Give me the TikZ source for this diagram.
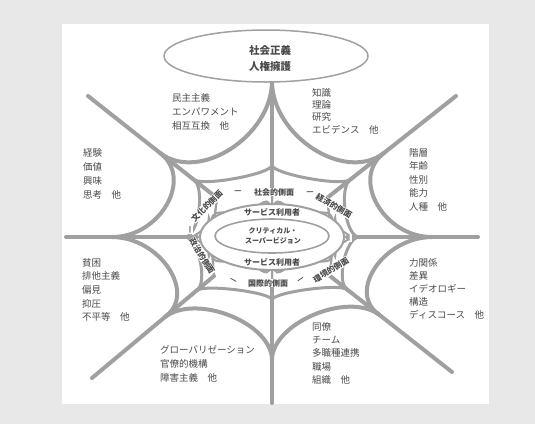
\documentclass[tikz,border=0pt]{standalone}
\usepackage{fontspec}
\setmainfont{Noto Sans CJK JP}
\usetikzlibrary{calc,shapes.geometric}
\definecolor{webgray}{HTML}{A0A0A0}
\definecolor{txtgray}{HTML}{4A4A4A}
\definecolor{bggray}{HTML}{E8E8E8}
\begin{document}
\begin{tikzpicture}[x=1pt,y=-1pt,
  web/.style={draw=webgray, line width=4pt, line cap=round},
  inweb/.style={draw=webgray, line width=3.0pt, line cap=round},
  thinweb/.style={draw=webgray, line width=2.0pt},
  blocktext/.style={anchor=north west, align=left, inner sep=0pt, text=txtgray,
    font=\fontsize{9.5}{14}\selectfont},
  ringlabel/.style={fill=white, inner sep=0.5pt, text=txtgray,
    font=\fontsize{8}{8}\selectfont\bfseries},
  smalltext/.style={inner sep=0pt, text=txtgray, align=center,
    font=\fontsize{7.5}{10}\selectfont\bfseries}]
\useasboundingbox (0,0) rectangle (535,424);
\fill[bggray] (0,0) rectangle (535,424);
\fill[white] (62,24) rectangle (489,404);
\coordinate (c) at (272,238);
% spoke outer ends
\coordinate (oT) at (272,80);
\coordinate (oTR) at (456,96);
\coordinate (oR) at (478,237);
\coordinate (oBR) at (452,372);
\coordinate (oB) at (272,403);
\coordinate (oBL) at (92,378);
\coordinate (oL) at (66,237);
\coordinate (oTL) at (88,96);
% spoke inner ends (label ring)
\coordinate (iT) at (272,190);
\coordinate (iTR) at (327,198);
\coordinate (iR) at (347,237);
\coordinate (iBR) at (330,276);
\coordinate (iB) at (272,280);
\coordinate (iBL) at (214,276);
\coordinate (iL) at (197,237);
\coordinate (iTL) at (217,198);
% outer web cusps
\coordinate (aT) at (272,81);
\coordinate (aTR) at ($(oTR)!0.56!(iTR)$);
\coordinate (aR) at (432,237);
\coordinate (aBR) at ($(oBR)!0.6!(iBR)$);
\coordinate (aB) at (272,360);
\coordinate (aBL) at ($(oBL)!0.6!(iBL)$);
\coordinate (aL) at (112,237);
\coordinate (aTL) at ($(oTL)!0.56!(iTL)$);
% inner web cusps
\coordinate (bT) at (272,165);
\coordinate (bTR) at ($(oTR)!0.82!(iTR)$);
\coordinate (bR) at (359,237);
\coordinate (bBR) at ($(oBR)!0.86!(iBR)$);
\coordinate (bB) at (272,300);
\coordinate (bBL) at ($(oBL)!0.86!(iBL)$);
\coordinate (bL) at (185,237);
\coordinate (bTL) at ($(oTL)!0.82!(iTL)$);
\newcommand\warc[4]{\draw[#4] (#1) .. controls ($(#1)!#3!(c)$) and ($(#2)!#3!(c)$) .. (#2);}
% outer web
\warc{aT}{aTR}{0.35}{web}
\warc{aTR}{aR}{0.3}{web}
\warc{aR}{aBR}{0.3}{web}
\warc{aBR}{aB}{0.3}{web}
\warc{aB}{aBL}{0.3}{web}
\warc{aBL}{aL}{0.3}{web}
\warc{aL}{aTL}{0.3}{web}
\warc{aTL}{aT}{0.35}{web}
% inner web
\warc{bT}{bTR}{0.12}{inweb}
\warc{bTR}{bR}{0.15}{inweb}
\warc{bR}{bBR}{0.15}{inweb}
\warc{bBR}{bB}{0.12}{inweb}
\warc{bB}{bBL}{0.12}{inweb}
\warc{bBL}{bL}{0.15}{inweb}
\warc{bL}{bTL}{0.15}{inweb}
\warc{bTL}{bT}{0.12}{inweb}
% spokes
\foreach \n in {T,TR,R,BR,B,BL,L,TL}{
  \draw[web] (o\n) -- (i\n);
}
\draw[web] (aT) -- (272,72);
% small forks onto the service-user ellipse
\foreach \n/\a in {T/90,TR/38,R/0,BR/-38,B/-90,BL/-142,L/180,TL/142}{
  \draw[thinweb] (i\n) .. controls ($(272,237)+(\a:80 and 40)$) .. ($(272,237)+(\a+10:72 and 33)$);
  \draw[thinweb] (i\n) .. controls ($(272,237)+(\a:80 and 40)$) .. ($(272,237)+(\a-10:72 and 33)$);
}
% service user ellipse and centre
\draw[thinweb, fill=white] (272,237) ellipse [x radius=72, y radius=33];
\draw[thinweb, line width=1.6pt] (272,236) ellipse [x radius=57, y radius=17];
\node[smalltext, font=\fontsize{8}{10}\selectfont\bfseries] (su1) at (272,212) {サービス利用者};
\node[smalltext, font=\fontsize{8}{10}\selectfont\bfseries] (su2) at (272,262) {サービス利用者};
\node[smalltext, font=\fontsize{7}{9.5}\selectfont\bfseries] (cs) at (273,236) {クリティカル・\\スーパービジョン};
% ring labels
\node[ringlabel] (r1) at (274,192) {社会的側面};
\node[ringlabel, rotate=-30] (r2) at (334,206) {経済的側面};
\node[ringlabel, rotate=32] (r3) at (331,270) {環境的側面};
\node[ringlabel] (r4) at (268,283) {国際的側面};
\node[ringlabel, rotate=-58] (r5) at (202,256) {政治的側面};
\node[ringlabel, rotate=45] (r6) at (207,206) {文化的側面};
\node[ringlabel] (d1) at (238,192) {—};
\node[ringlabel] (d2) at (310,193) {—};
\node[ringlabel, rotate=90] (d3) at (350,238) {—};
\node[ringlabel, rotate=35] (d4) at (301,280) {—};
\node[ringlabel, rotate=-30] (d5) at (233,281) {—};
\node[ringlabel, rotate=90] (d6) at (191,230) {—};
% top ellipse
\node[draw=webgray, line width=1.5pt, fill=white, ellipse, minimum width=204pt, minimum height=52pt, inner sep=0pt] (top) at (266,56) {};
\node[smalltext, font=\fontsize{10.5}{16}\selectfont\bfseries] (toptext) at (270,59) {社会正義\\人権擁護};
% text blocks
\node[blocktext] (b1) at (172,93) {民主主義\\エンパワメント\\相互互換　他};
\node[blocktext, font=\fontsize{9.5}{12.4}\selectfont] (b2) at (312,88) {知識\\理論\\研究\\エビデンス　他};
\node[blocktext] (b3) at (83,148) {経験\\価値\\興味\\思考　他};
\node[blocktext, font=\fontsize{9.5}{13.5}\selectfont] (b4) at (409,148) {階層\\年齢\\性別\\能力\\人種　他};
\node[blocktext, font=\fontsize{9.5}{13.7}\selectfont] (b5) at (82,258) {貧困\\排他主義\\偏見\\抑圧\\不平等　他};
\node[blocktext, font=\fontsize{9.5}{13.2}\selectfont] (b6) at (409,258) {力関係\\差異\\イデオロギー\\構造\\ディスコース　他};
\node[blocktext, font=\fontsize{9.5}{14}\selectfont] (b7) at (160,345) {グローバリゼーション\\官僚的機構\\障害主義　他};
\node[blocktext, font=\fontsize{9.5}{13.3}\selectfont] (b8) at (312,322) {同僚\\チーム\\多職種連携\\職場\\組織　他};
\end{tikzpicture}
\end{document}
